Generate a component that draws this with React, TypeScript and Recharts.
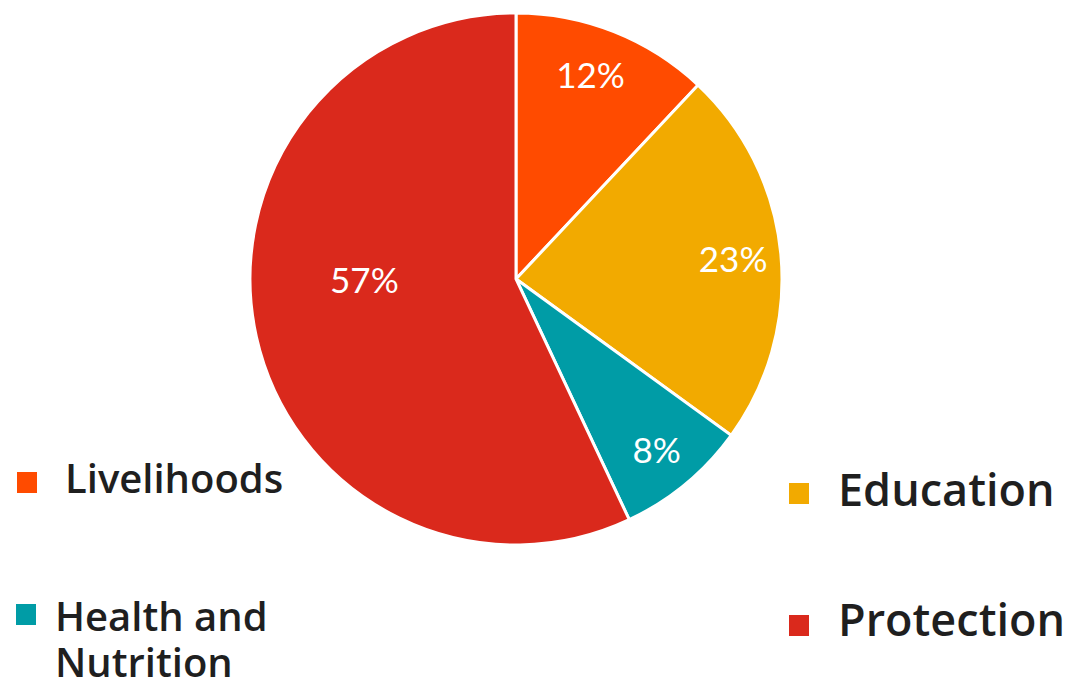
import React from "react";
import { PieChart, Pie, Cell, Legend } from "recharts";

const categories = ["Livelihoods", "Education", "Health and Nutrition", "Protection"];
const shares = [12, 23, 8, 57];
const colors = ["#FF4B00", "#F2AA00", "#009CA6", "#DA291C"];

const data = categories.map((name, i) => ({ name, value: shares[i] }));

// where each legend entry sits on the page (same order as categories)
const legendSpots = [
  { box: [17, 472], text: [65, 455], size: 40, lh: 46, width: 260 },
  { box: [789, 483], text: [838, 463], size: 45, lh: 52, width: 260 },
  { box: [16, 604], text: [55, 593], size: 40, lh: 46, width: 230 },
  { box: [789, 615], text: [838, 593], size: 45, lh: 52, width: 260 },
];

// label radius as fraction of outer radius, plus angle override for the big slice
const labelRadius = [0.82, 0.82, 0.83, 0.57];
const labelAngle: (number | null)[] = [70, null, null, 180];

const RADIAN = Math.PI / 180;

function renderLabel(props: any) {
  const { cx, cy, midAngle, outerRadius, index, value } = props;
  const ang = labelAngle[index] ?? midAngle;
  const r = outerRadius * labelRadius[index];
  const x = cx + r * Math.cos(-ang * RADIAN);
  const y = cy + r * Math.sin(-ang * RADIAN);
  return (
    <text
      x={x}
      y={y}
      fill="#fff"
      textAnchor="middle"
      dominantBaseline="central"
      fontFamily="Lato, sans-serif"
      fontSize={35}
    >
      {value}%
    </text>
  );
}

function renderLegend(props: any) {
  const payload = props.payload || [];
  return (
    <div style={{ position: "relative", width: 1066, height: 684 }}>
      {payload.map((entry: any) => {
        const i = categories.indexOf(entry.value);
        const spot = legendSpots[i];
        if (!spot) return null;
        return (
          <React.Fragment key={entry.value}>
            <div
              style={{
                position: "absolute",
                left: spot.box[0],
                top: spot.box[1],
                width: 20,
                height: 21,
                background: colors[i],
              }}
            />
            <div
              style={{
                position: "absolute",
                left: spot.text[0],
                top: spot.text[1],
                width: spot.width,
                fontFamily: "'Open Sans', sans-serif",
                fontWeight: 600,
                fontSize: spot.size,
                lineHeight: spot.lh + "px",
                color: "#1f1f1f",
                textAlign: "left",
              }}
            >
              {entry.value}
            </div>
          </React.Fragment>
        );
      })}
    </div>
  );
}

export default function App() {
  return (
    <div style={{ position: "absolute", left: 0, top: 0, width: 1066, height: 684, background: "#fff" }}>
      <PieChart width={1066} height={684} margin={{ top: 0, right: 0, bottom: 0, left: 0 }}>
        <Pie
          data={data}
          dataKey="value"
          nameKey="name"
          cx={516}
          cy={279}
          outerRadius={266}
          startAngle={90}
          endAngle={-270}
          stroke="#fff"
          strokeWidth={3}
          label={renderLabel}
          labelLine={false}
          isAnimationActive={false}
        >
          {data.map((d, i) => (
            <Cell key={d.name} fill={colors[i]} />
          ))}
        </Pie>
        <Legend
          content={renderLegend}
          wrapperStyle={{ left: 0, top: 0, width: 1066, height: 684 }}
        />
      </PieChart>
    </div>
  );
}
